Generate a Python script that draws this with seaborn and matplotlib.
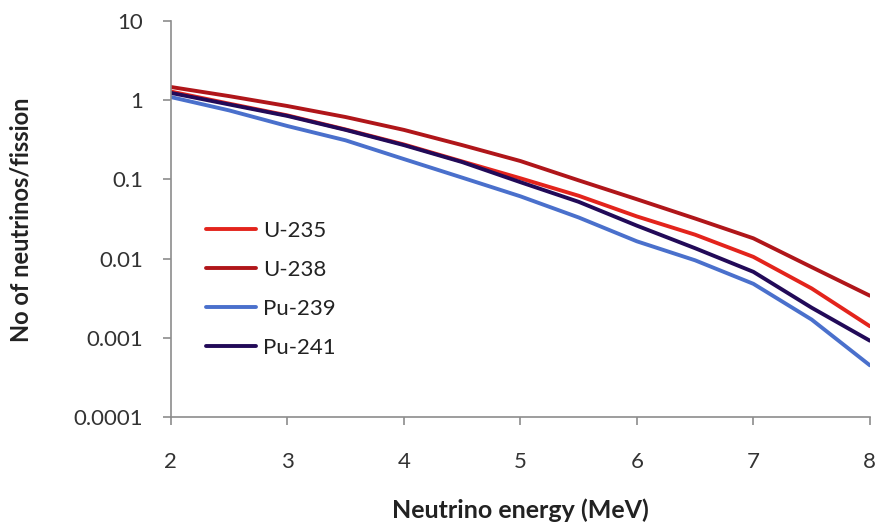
import pandas as pd
import matplotlib.pyplot as plt
import seaborn as sns

energy = [2, 2.5, 3, 3.5, 4, 4.5, 5, 5.5, 6, 6.5, 7, 7.5, 8]
u235 = [1.28, 0.9, 0.64, 0.425, 0.275, 0.168, 0.103, 0.062, 0.034, 0.02, 0.0105, 0.0042, 0.0014]
u238 = [1.46, 1.12, 0.84, 0.61, 0.42, 0.27, 0.17, 0.097, 0.056, 0.032, 0.018, 0.0078, 0.0034]
pu239 = [1.09, 0.74, 0.47, 0.31, 0.18, 0.105, 0.061, 0.033, 0.0165, 0.0095, 0.0048, 0.0017, 0.00045]
pu241 = [1.23, 0.88, 0.63, 0.42, 0.27, 0.165, 0.092, 0.052, 0.026, 0.0135, 0.0068, 0.0024, 0.00092]

names = ['U-235', 'U-238', 'Pu-239', 'Pu-241']
colors = ['#E3241C', '#B0161A', '#4A70CC', '#220A58']
y_ticks = [0.0001, 0.001, 0.01, 0.1, 1, 10]
y_labels = ['0.0001', '0.001', '0.01', '0.1', '1', '10']
x_ticks = [2, 3, 4, 5, 6, 7, 8]

df = pd.concat([
    pd.DataFrame({'energy': energy, 'value': vals, 'isotope': name})
    for name, vals in zip(names, [u235, u238, pu239, pu241])
])

sns.set_style('white')
plt.rcParams['font.family'] = ['Lato', 'DejaVu Sans']

fig = plt.figure(figsize=(8.76, 5.32), dpi=100)
ax = fig.add_axes([0.195, 0.216, 0.798, 0.745])

sns.lineplot(data=df, x='energy', y='value', hue='isotope', hue_order=names,
             palette=colors, linewidth=2.8, ax=ax)

ax.set_yscale('log')
ax.set_ylim(0.0001, 10)
ax.set_xlim(2, 8)
ax.set_yticks(y_ticks)
ax.set_yticklabels(y_labels)
ax.minorticks_off()
ax.set_xticks(x_ticks)
ax.set_xticklabels([str(t) for t in x_ticks])

for side in ['top', 'right']:
    ax.spines[side].set_visible(False)
for side in ['left', 'bottom']:
    ax.spines[side].set_color('#8c8c8c')
    ax.spines[side].set_linewidth(1.2)

ax.tick_params(axis='y', direction='out', length=6, width=1.2, color='#8c8c8c',
               labelsize=16, labelcolor='#333333', pad=14, left=True)
ax.tick_params(axis='x', direction='out', length=6, width=1.2, color='#8c8c8c',
               labelsize=16, labelcolor='#333333', pad=19, bottom=True)

ax.set_xlabel('Neutrino energy (MeV)', fontsize=18, fontweight='bold', color='#222222')
ax.set_ylabel('No of neutrinos/fission', fontsize=17, fontweight='bold', color='#222222')
ax.xaxis.set_label_coords(0.5, -0.205)
ax.yaxis.set_label_coords(-0.198, 0.497)

ax.legend(loc='upper left', bbox_to_anchor=(0.05, 0.495), frameon=False, fontsize=16,
          handlelength=2.25, handletextpad=0.32, labelspacing=0.86, borderpad=0,
          borderaxespad=0, labelcolor='#222222')

fig.savefig('out.png', dpi=100)
